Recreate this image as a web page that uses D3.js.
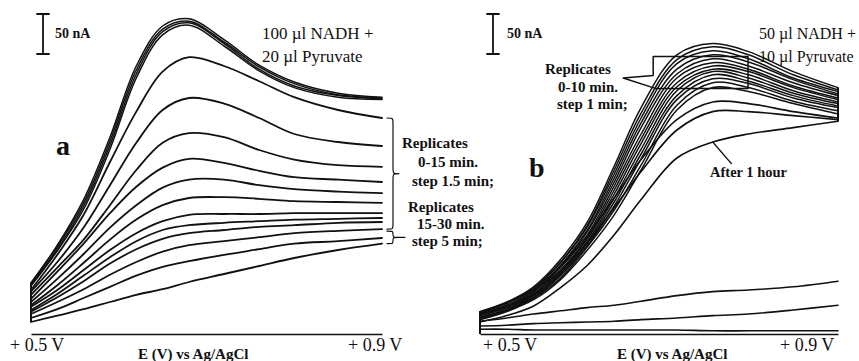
<!DOCTYPE html>
<html>
<head>
  <meta charset="utf-8">
  <title>NADH / Pyruvate voltammograms</title>
  <style>
  body { margin: 0px; background: #fff; }
  svg text, svg tspan { font-family: "Liberation Serif", "Times New Roman", serif; fill: #111; }
  .curve { fill: none; stroke: #111; stroke-linejoin: round; stroke-linecap: round; }
  .bold { font-weight: bold; }
  </style>
</head>
<body>
  <svg width="859" height="361"></svg>
  <script src="https://d3js.org/d3.v7.min.js"></script>
  <script>
  // potential (V vs Ag/AgCl) at which each curve was read
  var volts = [0.50, 0.53, 0.56, 0.59, 0.62, 0.65, 0.68, 0.72, 0.76, 0.80, 0.85, 0.90];

  // panel a, current in nA (relative to the axis line)
  var aTop = [
    [64, 111, 168, 246, 335, 385, 394, 368, 336, 315, 301, 296],
    [63, 109, 164, 241, 330, 381, 391, 365, 334, 313, 299, 295],
    [61, 106, 160, 236, 325, 378, 389, 363, 331, 310, 298, 294],
    [60, 104, 156, 231, 320, 374, 386, 360, 329, 308, 296, 293]
  ];
  var aReplicates = [
    [55, 99, 149, 215, 278, 328, 346, 335, 316, 296, 280, 270],
    [53, 90, 133, 186, 239, 280, 295, 288, 270, 250, 240, 235],
    [49, 83, 118, 161, 205, 239, 251, 246, 230, 218, 211, 209],
    [44, 78, 113, 151, 184, 208, 219, 214, 204, 196, 193, 190],
    [40, 69, 100, 133, 161, 183, 193, 193, 186, 181, 178, 176],
    [36, 61, 89, 118, 143, 161, 170, 171, 169, 166, 165, 164],
    [34, 55, 80, 105, 126, 141, 149, 150, 150, 151, 151, 151],
    [30, 50, 73, 96, 116, 130, 136, 139, 141, 143, 144, 145],
    [28, 46, 66, 88, 106, 119, 126, 130, 134, 136, 139, 140],
    [25, 40, 56, 74, 90, 103, 111, 116, 121, 126, 129, 131],
    [20, 31, 45, 59, 73, 84, 91, 99, 106, 113, 116, 120],
    [15, 23, 31, 40, 49, 56, 65, 75, 85, 95, 105, 113]
  ];

  // panel b
  var bReplicates = [
    [28, 40, 59, 93, 140, 210, 283, 349, 363, 353, 328, 308],
    [28, 39, 58, 90, 136, 205, 276, 343, 359, 349, 324, 305],
    [26, 39, 56, 89, 134, 200, 270, 338, 354, 344, 320, 303],
    [26, 38, 55, 86, 130, 195, 264, 331, 349, 340, 318, 300],
    [25, 36, 54, 85, 128, 190, 258, 325, 344, 335, 314, 298],
    [25, 36, 53, 83, 124, 185, 250, 320, 339, 331, 310, 295],
    [24, 35, 51, 80, 121, 180, 244, 314, 335, 328, 308, 293],
    [24, 34, 50, 79, 119, 175, 238, 309, 331, 324, 304, 290],
    [23, 33, 49, 76, 116, 170, 231, 304, 328, 320, 301, 288],
    [23, 33, 48, 74, 114, 165, 225, 298, 324, 316, 298, 285],
    [21, 31, 46, 73, 111, 160, 219, 293, 319, 313, 295, 283],
    [21, 30, 45, 70, 109, 155, 211, 286, 314, 308, 291, 279],
    [20, 29, 43, 68, 105, 149, 205, 280, 308, 303, 288, 275]
  ];
  var bLater = [
    [19, 30, 49, 84, 123, 170, 218, 268, 290, 288, 278, 270],
    [18, 28, 45, 78, 114, 158, 203, 255, 278, 278, 273, 268]
  ];
  var bOneHour = [15, 23, 35, 58, 86, 124, 168, 220, 240, 250, 258, 266];
  var bBlank = [
    [16, 20, 25, 29, 33, 36, 41, 48, 53, 55, 59, 66],
    [10, 11, 13, 14, 15, 16, 18, 20, 23, 25, 30, 36],
    [6, 6, 5, 5, 5, 5, 5, 5, 4, 4, 4, 4]
  ];

  var xLabels = ["+ 0.5 V", "+ 0.9 V"];
  var axisTitle = "E (V) vs Ag/AgCl";

  var svg = d3.select("svg");

  var xA = d3.scaleLinear().domain([0.5, 0.9]).range([31, 382]);
  var xB = d3.scaleLinear().domain([0.5, 0.9]).range([480, 838]);
  var y = d3.scaleLinear().domain([0, 50]).range([334, 294]);

  function lineFor(x) {
    return d3.line()
      .x(function(d, i) { return x(volts[i]); })
      .y(function(d) { return y(d); })
      .curve(d3.curveCatmullRom.alpha(0.5));
  }

  function drawCurves(g, x, rows, width) {
    g.selectAll(null)
      .data(rows)
      .enter()
      .append("path")
      .attr("class", "curve")
      .attr("stroke-width", width)
      .attr("d", lineFor(x));
  }

  function scaleBar(x, top, labelX) {
    var len = y(0) - y(50);
    svg.append("path")
      .attr("class", "curve")
      .attr("stroke-width", 1.8)
      .attr("d", "M" + (x - 6) + "," + top + "H" + (x + 6) +
        "M" + x + "," + top + "V" + (top + len) +
        "M" + (x - 6) + "," + (top + len) + "H" + (x + 6));
    svg.append("text").attr("class", "bold")
      .attr("x", labelX).attr("y", top + 24)
      .attr("font-size", 14).text("50 nA");
  }

  function xAxis(x, labelsX, titleX) {
    svg.append("g")
      .attr("transform", "translate(0," + y(0) + ")")
      .call(d3.axisBottom(x).tickValues([]).tickSizeOuter(0))
      .call(function(g) { g.select(".domain").attr("stroke", "#111").attr("stroke-width", 1.6); });
    xLabels.forEach(function(t, i) {
      svg.append("text").attr("x", labelsX[i]).attr("y", 351)
        .attr("font-size", 18).text(t);
    });
    svg.append("text").attr("class", "bold")
      .attr("x", titleX).attr("y", 359)
      .attr("font-size", 15).text(axisTitle);
  }

  function startLine(x, rows) {
    var vals = rows.map(function(r) { return r[0]; });
    svg.append("line")
      .attr("x1", x(0.5)).attr("x2", x(0.5))
      .attr("y1", y(d3.max(vals))).attr("y2", y(d3.min(vals)))
      .attr("stroke", "#111").attr("stroke-width", 2);
  }

  function brace(x, y0, y1, w) {
    var ym = (y0 + y1) / 2, r = Math.min(6, (y1 - y0) / 4);
    return "M" + x + "," + y0 +
      "C" + (x + w) + "," + y0 + " " + (x + w) + "," + y0 + " " + (x + w) + "," + (y0 + r) +
      "L" + (x + w) + "," + (ym - r) +
      "C" + (x + w) + "," + ym + " " + (x + w) + "," + ym + " " + (x + 2 * w) + "," + ym +
      "C" + (x + w) + "," + ym + " " + (x + w) + "," + ym + " " + (x + w) + "," + (ym + r) +
      "L" + (x + w) + "," + (y1 - r) +
      "C" + (x + w) + "," + y1 + " " + (x + w) + "," + y1 + " " + x + "," + y1;
  }

  function addText(lines, size, cls) {
    lines.forEach(function(l) {
      svg.append("text").attr("class", cls || null)
        .attr("x", l[0]).attr("y", l[1]).attr("font-size", size)
        .attr("fill", "#111").text(l[2]);
    });
  }

  // sample label: "+" as its own tspan so it keeps the text colour
  function sampleText(x, yy, size, first, second) {
    var t = svg.append("text").attr("x", x).attr("y", yy)
      .attr("font-size", size).attr("fill", "#111");
    t.append("tspan").text(first);
    t.append("tspan").attr("fill", "#111").style("fill", "#111").text("\u00a0+");
    svg.append("text").attr("x", x).attr("y", yy + 23)
      .attr("font-size", size).attr("fill", "#111").text(second);
  }

  // ---- panel a ----
  var gA = svg.append("g");
  drawCurves(gA, xA, aTop, 1.5);
  drawCurves(gA, xA, aReplicates, 1.8);
  startLine(xA, aTop.concat(aReplicates));
  xAxis(xA, [10, 348], 138);
  scaleBar(43, 14, 55);
  sampleText(262, 39, 17, "100 \u00b5l NADH", "20 \u00b5l Pyruvate");
  addText([[56, 155, "a"]], 28, "bold");

  var last = volts.length - 1;
  var bx = xA(0.9) + 5;
  svg.append("path").attr("class", "curve").attr("stroke-width", 1.2)
    .attr("d", brace(bx, y(aReplicates[0][last]), y(aReplicates[9][last]), 6));
  svg.append("path").attr("class", "curve").attr("stroke-width", 1.2)
    .attr("d", brace(bx, y(aReplicates[9][last]) + 2, y(aReplicates[11][last]), 6) +
      "M" + (bx + 12) + "," + ((y(aReplicates[9][last]) + 2 + y(aReplicates[11][last])) / 2) + "h6");
  addText([
    [402, 148, "Replicates"], [418, 167, "0-15 min."], [412, 186, "step 1.5 min;"],
    [408, 212, "Replicates"], [417, 229, "15-30 min."], [412, 246, "step 5 min;"]
  ], 15, "bold");

  // ---- panel b ----
  var gB = svg.append("g");
  drawCurves(gB, xB, bBlank, 1.6);
  drawCurves(gB, xB, bReplicates, 1.5);
  drawCurves(gB, xB, bLater, 1.6);
  drawCurves(gB, xB, [bOneHour], 1.6);
  startLine(xB, bReplicates.concat(bBlank).concat([[0]]));

  var ends = bReplicates.concat(bLater).concat([bOneHour]).map(function(r) { return r[last]; });
  svg.append("line")
    .attr("x1", xB(0.9)).attr("x2", xB(0.9))
    .attr("y1", y(d3.max(ends))).attr("y2", y(d3.min(ends)))
    .attr("stroke", "#111").attr("stroke-width", 2);

  xAxis(xB, [483, 780], 617);
  scaleBar(493, 14, 507);
  sampleText(759, 39, 16, "50 \u00b5l NADH", "10 \u00b5l Pyruvate");
  addText([[529, 177, "b"]], 28, "bold");

  // callout around the 0-10 min replicates
  var cx0 = xB(0.6935), cx1 = xB(0.7995), tipX = xB(0.66);
  var cTop = y(347), cBot = y(307);
  svg.append("path").attr("class", "curve").attr("stroke-width", 1.5)
    .attr("d", "M" + cx0 + "," + y(323) + "V" + cTop + "H" + cx1 + "V" + cBot + "H" + (cx0 + 2) +
      "L" + tipX + "," + y(320) + "L" + cx0 + "," + y(323));
  addText([[545, 74, "Replicates"], [558, 92, "0-10 min."], [557, 109, "step 1 min;"]], 15, "bold");

  // pointer to the 1 hour curve
  var px = xB(volts[8]), py = y(bOneHour[8]);
  svg.append("line").attr("x1", px).attr("y1", py).attr("x2", px + 19).attr("y2", py + 22)
    .attr("stroke", "#111").attr("stroke-width", 1.2);
  addText([[710, 177, "After 1 hour"]], 14.5, "bold");
  </script>
</body>
</html>
